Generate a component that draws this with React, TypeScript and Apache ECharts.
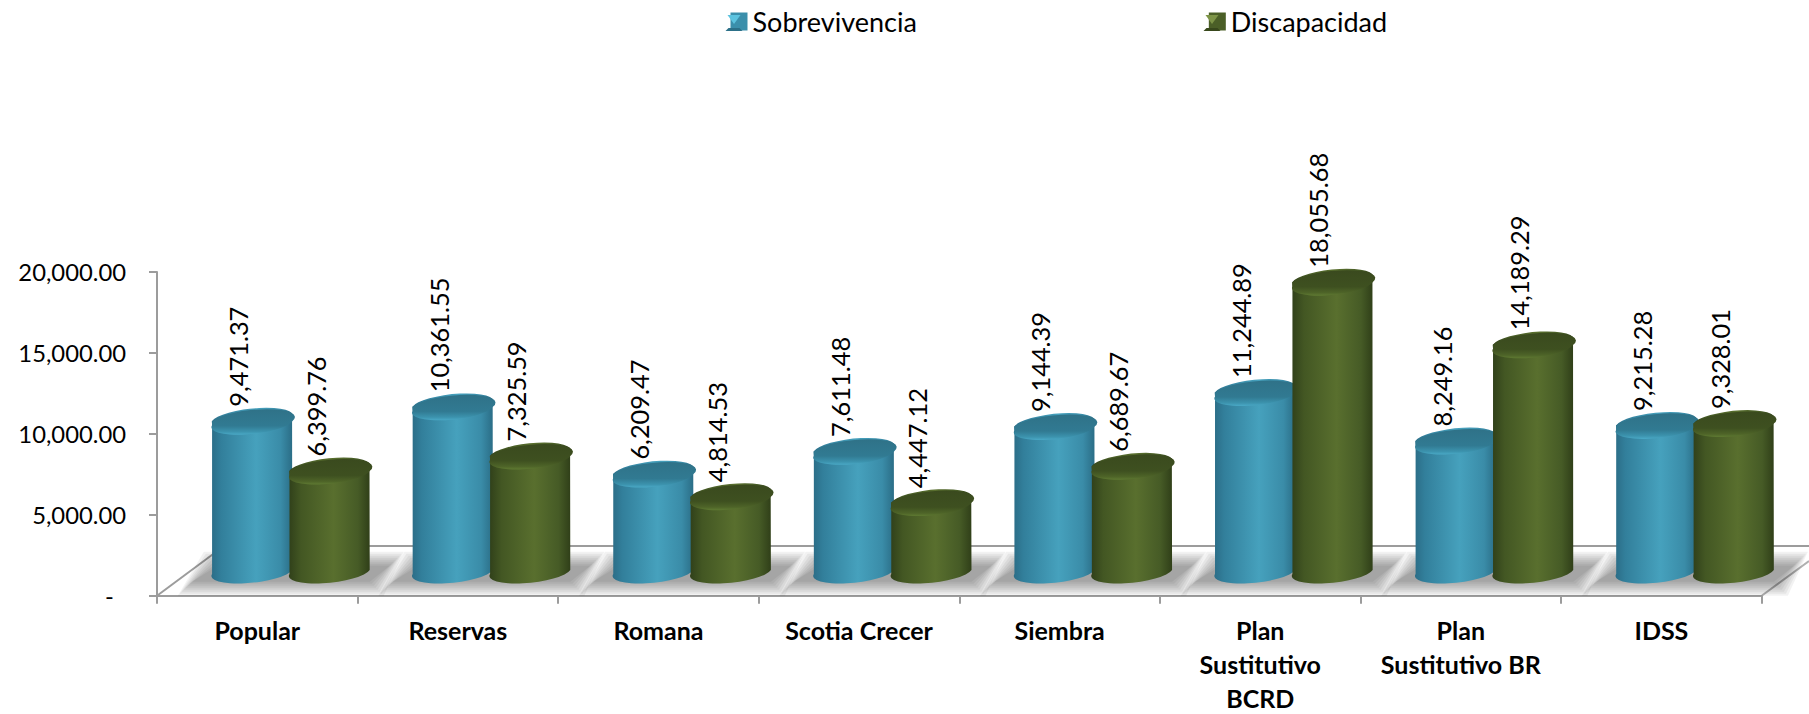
import React, { useEffect, useRef } from "react";
import * as echarts from "echarts";

const categories = ["Popular", "Reservas", "Romana", "Scotia Crecer", "Siembra", "Plan\nSustitutivo\nBCRD", "Plan\nSustitutivo BR", "IDSS"];
const sobrevivencia = [9471.37, 10361.55, 6209.47, 7611.48, 9144.39, 11244.89, 8249.16, 9215.28];
const discapacidad = [6399.76, 7325.59, 4814.53, 4447.12, 6689.67, 18055.68, 14189.29, 9328.01];
const FONT = "Lato, Carlito, Calibri, sans-serif";

const fmt = (v: number) => v.toLocaleString("en-US", { minimumFractionDigits: 2, maximumFractionDigits: 2 });
const grad = (stops: [number, string][], x2 = 1, y2 = 0) =>
  new echarts.graphic.LinearGradient(0, 0, x2, y2, stops.map(([offset, color]) => ({ offset, color })));

const blueBody: [number, string][] = [[0, "#2b6d87"], [0.12, "#327f9b"], [0.55, "#46a1bd"], [0.85, "#3a8ca8"], [1, "#2a6c85"]];
const greenBody: [number, string][] = [[0, "#30401a"], [0.15, "#435723"], [0.55, "#596f2e"], [0.85, "#465b26"], [1, "#2f3e18"]];
const blueTop: [number, string][] = [[0, "#2f7288"], [0.65, "#317a92"], [0.88, "#3c93ae"], [1, "#4aa9c6"]];
const greenTop: [number, string][] = [[0, "#3a4a1e"], [0.65, "#3e5020"], [0.88, "#4e6428"], [1, "#5f7a32"]];

const cylinder = (side: number, body: [number, string][], top: [number, string][]) => (params: any, api: any) => {
  const idx = api.value(0);
  const unit = api.size([1, 0])[0];
  const c = api.coord([idx, 0])[0] + side * unit * 0.193;
  const y0 = api.coord([idx, 0])[1] - 4.7;
  const yt = api.coord([idx, api.value(1)])[1];
  const rot = -5.7, rx = 40.2, ry = 10.5;
  const hx = rx * Math.cos((rot * Math.PI) / 180);
  const tilt = -rx * Math.sin((rot * Math.PI) / 180);
  const arc = `A ${rx} ${ry} ${rot} 0 0`;
  const bodyPath = `M ${c - hx} ${yt + tilt} L ${c - hx} ${y0 + tilt} ${arc} ${c + hx} ${y0 - tilt} L ${c + hx} ${yt - tilt} ${arc} ${c - hx} ${yt + tilt} Z`;
  const topPath = `M ${c - hx} ${yt + tilt} ${arc} ${c + hx} ${yt - tilt} ${arc} ${c - hx} ${yt + tilt} Z`;
  return {
    type: "group",
    children: [
      { type: "path", shape: { pathData: bodyPath }, style: { fill: grad(body) } },
      { type: "path", shape: { pathData: topPath }, style: { fill: grad(top, 0, 1) } },
      {
        type: "text", x: c - 14, y: yt - 14.5, rotation: Math.PI / 2,
        style: { text: fmt(api.value(1)), align: "left", verticalAlign: "middle", fontFamily: FONT, fontSize: 25.4, fill: "#000" },
      },
    ],
  };
};

const shadow = (params: any, api: any) => {
  const idx = api.value(0);
  const [c, y] = api.coord([idx, 0]);
  const layers = [9, 7, 5, 3, 1, -1, -3, -5];
  const yTop = y - 14, yBot = y + 12;
  return {
    type: "group",
    silent: true,
    children: layers.map((k) => ({
      type: "polygon",
      shape: { points: [[c - 78 - k, yTop - k], [c + 104 + k, yTop - k], [c + 84 + k, yBot + k], [c - 104 - k, yBot + k]] },
      style: { fill: "rgba(0,0,0,0.05)" },
    })),
  };
};

const bevel = (x: number, light: string, dark: string) => [
  { type: "polygon", z: 10, silent: true, shape: { points: [[x + 2, 15], [x + 15, 15], [x + 8.5, 24]] }, style: { fill: light } },
  { type: "polygon", z: 10, silent: true, shape: { points: [[x, 31], [x + 17, 31], [x + 14, 28], [x + 3, 28]] }, style: { fill: dark } },
];

export default function App() {
  const ref = useRef<HTMLDivElement>(null);
  useEffect(() => {
    const chart = echarts.init(ref.current!, null, { renderer: "svg" });
    const idx = categories.map((_, i) => i);
    chart.setOption({
      animation: false,
      backgroundColor: "#fff",
      textStyle: { fontFamily: FONT },
      legend: {
        left: 725.5, top: 3, itemWidth: 17, itemHeight: 18, itemGap: 292, icon: "rect",
        data: ["Sobrevivencia", "Discapacidad"],
        textStyle: { fontFamily: FONT, fontSize: 27, color: "#000" },
      },
      grid: [
        { left: 157, top: 272, width: 1604.7, height: 323.7, outerBoundsMode: "none" },
        { left: 190.5, top: 250.7, width: 1604.7, height: 324, outerBoundsMode: "none" },
      ],
      xAxis: [
        {
          type: "category", gridIndex: 0, data: categories,
          axisLine: { lineStyle: { color: "#9c9c9c", width: 2 } },
          axisTick: { show: true, length: 8, lineStyle: { color: "#9c9c9c", width: 2 } },
          axisLabel: { interval: 0, margin: 17, fontFamily: FONT, fontSize: 25, fontWeight: "bold", color: "#000", lineHeight: 34 },
        },
        { type: "category", gridIndex: 1, data: categories, show: false },
      ],
      yAxis: [
        {
          type: "value", gridIndex: 0, min: 0, max: 20000, interval: 5000,
          axisLine: { show: true, lineStyle: { color: "#9c9c9c", width: 2 } },
          axisTick: { show: true, length: 8, lineStyle: { color: "#9c9c9c", width: 2 } },
          splitLine: { show: false },
          axisLabel: {
            margin: 31, fontFamily: FONT, fontSize: 23.8, color: "#000",
            formatter: (v: number) => (v === 0 ? "-\u00A0\u00A0" : fmt(v)),
          },
        },
        { type: "value", gridIndex: 1, min: 0, max: 20000, show: false },
      ],
      series: [
        { type: "custom", name: "floor", xAxisIndex: 1, yAxisIndex: 1, z: 1, renderItem: shadow, data: idx.map((i) => [i, 0]), clip: false, silent: true },
        { type: "custom", name: "Sobrevivencia", xAxisIndex: 1, yAxisIndex: 1, z: 2, itemStyle: { color: "#3b8fab" }, renderItem: cylinder(-1, blueBody, blueTop), data: idx.map((i) => [i, sobrevivencia[i]]), clip: false, encode: { x: 0, y: 1 } },
        { type: "custom", name: "Discapacidad", xAxisIndex: 1, yAxisIndex: 1, z: 3, itemStyle: { color: "#4b5f27" }, renderItem: cylinder(1, greenBody, greenTop), data: idx.map((i) => [i, discapacidad[i]]), clip: false, encode: { x: 0, y: 1 } },
      ],
      graphic: [
        { type: "line", z: -1, silent: true, shape: { x1: 157, y1: 595.7, x2: 224, y2: 546 }, style: { stroke: "#9c9c9c", lineWidth: 2 } },
        { type: "line", z: -1, silent: true, shape: { x1: 224, y1: 546, x2: 1809, y2: 546 }, style: { stroke: "#9c9c9c", lineWidth: 2 } },
        { type: "line", z: -1, silent: true, shape: { x1: 1761.7, y1: 595.7, x2: 1809, y2: 561 }, style: { stroke: "#b0b0b0", lineWidth: 2 } },
        ...bevel(725.5, "#5cc3df", "#2c7088"),
        ...bevel(1203.5, "#7d9447", "#38481c"),
      ],
    });
    return () => chart.dispose();
  }, []);
  return <div ref={ref} style={{ position: "fixed", left: 0, top: 0, width: 1809, height: 714 }} />;
}
